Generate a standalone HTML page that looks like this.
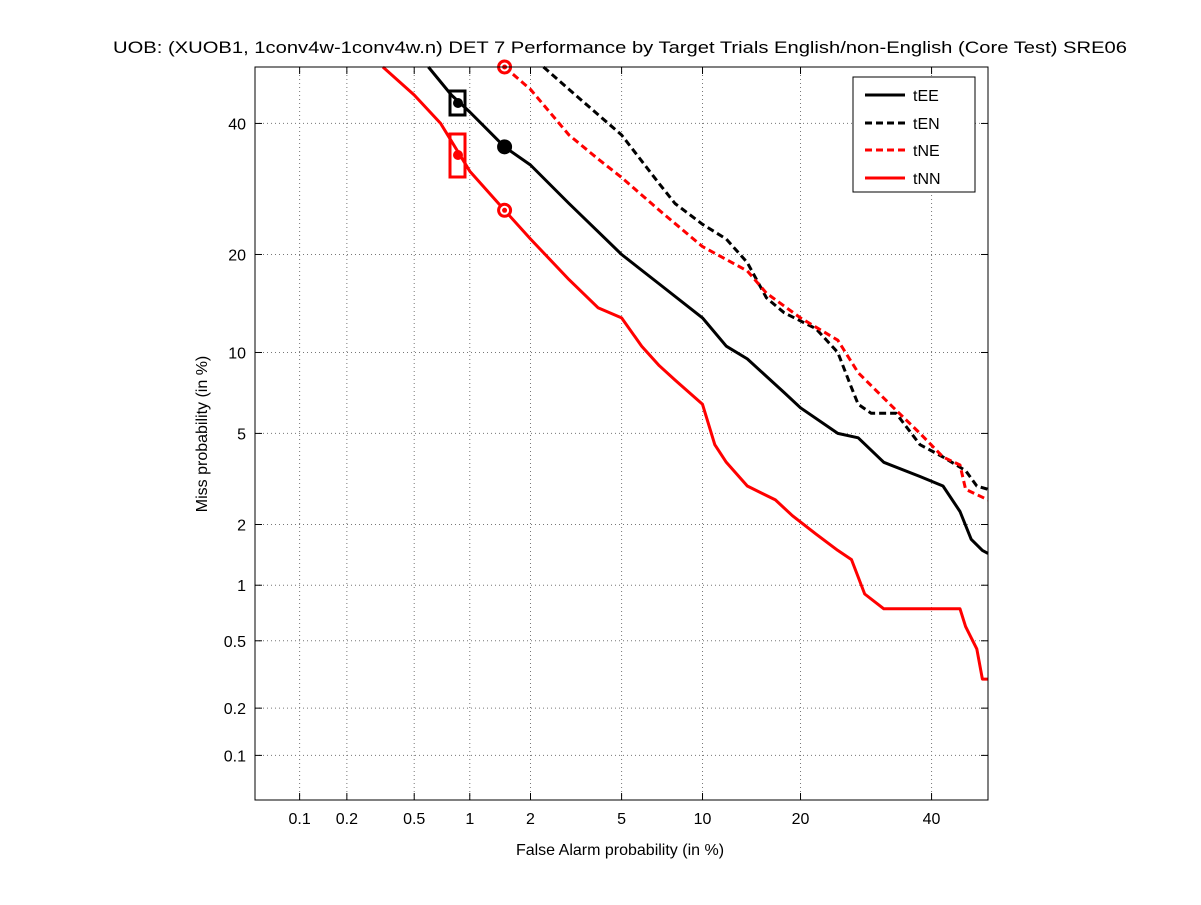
<!DOCTYPE html>
<html><head><meta charset="utf-8"><style>
body{margin:0;background:#fff;font-family:"Liberation Sans",sans-serif}
</style></head><body>
<svg id="chart" width="1201" height="900" xmlns="http://www.w3.org/2000/svg" style="font-family:'Liberation Sans',sans-serif">
<rect x="0" y="0" width="1201" height="900" fill="#fff"/>
<text x="113" y="53" font-size="17" textLength="1014" lengthAdjust="spacingAndGlyphs">UOB: (XUOB1, 1conv4w-1conv4w.n) DET 7 Performance by Target Trials English/non-English (Core Test) SRE06</text>
<text x="620" y="855" text-anchor="middle" font-size="16">False Alarm probability (in %)</text>
<text transform="translate(207,434) rotate(-90)" text-anchor="middle" font-size="16">Miss probability (in %)</text>
<g id="grid"></g><g id="ticks"></g><g id="series"></g>
<rect x="255" y="67" width="733" height="733" fill="none" stroke="#000" stroke-width="1"/>
<g>
<rect x="853" y="77" width="122" height="115" fill="#fff" stroke="#000"/>
<line x1="865" y1="95" x2="905" y2="95" stroke="#000" stroke-width="3"/><text x="913" y="101" font-size="16">tEE</text>
<line x1="865" y1="123" x2="905" y2="123" stroke="#000" stroke-width="3" stroke-dasharray="7,4"/><text x="913" y="129" font-size="16">tEN</text>
<line x1="865" y1="150" x2="905" y2="150" stroke="#f00" stroke-width="3" stroke-dasharray="7,4"/><text x="913" y="156" font-size="16">tNE</text>
<line x1="865" y1="178" x2="905" y2="178" stroke="#f00" stroke-width="3"/><text x="913" y="184" font-size="16">tNN</text>
</g>
</svg>
<script>
const tickValues=[0.1,0.2,0.5,1,2,5,10,20,40];
const tickLabels=["0.1","0.2","0.5","1","2","5","10","20","40"];
const tEE_fa=[0.6,0.8,1,1.5,2,3,4,5,7,10,12,14,18,20,25,28,32,38,42,45,47,49,50];
const tEE_miss=[50,45,42,36,33,27,23,20,16.5,13,10.5,9.5,7.2,6.3,5,4.8,3.8,3.3,3,2.3,1.7,1.5,1.45];
const tEN_fa=[2.3,3,5,7,8,10,12,14,16,18,22,25,27,28,30,34,38,42,46,48,50];
const tEN_miss=[50,46,38,30,27,24,22,19,15,13.5,12,10,7.5,6.5,6,6,4.5,4,3.5,3,2.9];
const tNE_fa=[1.5,2,3,4,5,7,10,14,16,20,25,28,33,38,42,45,46,50];
const tNE_miss=[50,46,38,34,31,26,21,18,15.5,13,11,8.5,6.5,5,4,3.7,2.9,2.6];
const tNN_fa=[0.33,0.5,0.7,1,1.5,2,3,4,5,6,7,8,10,11,12,14,17,19,22,25,27,29,32,45,46,48,49,50];
const tNN_miss=[50,45,40,32,26,22,17,14,13,10.5,9,8,6.5,4.5,3.8,3,2.6,2.2,1.8,1.5,1.35,0.9,0.75,0.75,0.6,0.45,0.3,0.3];

function probit(p){const a=[-39.69683028665376,220.9460984245205,-275.9285104469687,138.357751867269,-30.66479806614716,2.506628277459239],b=[-54.47609879822406,161.5858368580409,-155.6989798598866,66.80131188771972,-13.28068155288572],c=[-0.007784894002430293,-0.3223964580411365,-2.400758277161838,-2.549732539343734,4.374664141464968,2.938163982698783],d=[0.007784695709041462,0.3224671290700398,2.445134137142996,3.754408661907416];
if(p<0.02425){const q=Math.sqrt(-2*Math.log(p));return (((((c[0]*q+c[1])*q+c[2])*q+c[3])*q+c[4])*q+c[5])/((((d[0]*q+d[1])*q+d[2])*q+d[3])*q+1);}
if(p>1-0.02425){return -probit(1-p);}
const q=p-0.5,r=q*q;return (((((a[0]*r+a[1])*r+a[2])*r+a[3])*r+a[4])*r+a[5])*q/(((((b[0]*r+b[1])*r+b[2])*r+b[3])*r+b[4])*r+1);}
const U0=probit(0.0005),SC=733/(0-U0);
function xs(p){return 255+(probit(p/100)-U0)*SC;}
function ys(p){return 800-(probit(p/100)-U0)*SC;}
const NS="http://www.w3.org/2000/svg";
function mk(t,at,par){const e=document.createElementNS(NS,t);for(const k in at)e.setAttribute(k,at[k]);document.getElementById(par).appendChild(e);return e;}
tickValues.forEach((v,i)=>{
 const x=xs(v),y=ys(v);
 let g=mk('line',{x1:x,y1:67,x2:x,y2:800,stroke:'#777','stroke-dasharray':'1,3'},'grid');
 
 
 g=mk('line',{x1:255,y1:y,x2:988,y2:y,stroke:'#777','stroke-dasharray':'1,3'},'grid');
 
 
 mk('line',{x1:x,y1:800,x2:x,y2:793,stroke:'#000'},'ticks');
 mk('line',{x1:x,y1:67,x2:x,y2:74,stroke:'#000'},'ticks');
 mk('line',{x1:255,y1:y,x2:262,y2:y,stroke:'#000'},'ticks');
 mk('line',{x1:988,y1:y,x2:981,y2:y,stroke:'#000'},'ticks');
 let t=mk('text',{x:x,y:824,'text-anchor':'middle','font-size':16},'ticks');t.textContent=tickLabels[i];
 
 
 t=mk('text',{x:246,y:y+6,'text-anchor':'end','font-size':16},'ticks');t.textContent=tickLabels[i];
 
 
});
function line(fa,miss,col,dash,name){
 const pts=fa.map((f,i)=>xs(f).toFixed(1)+','+ys(miss[i]).toFixed(1)).join(' ');
 const at={points:pts,fill:'none',stroke:col,'stroke-width':3,'stroke-linejoin':'round'};
 if(dash)at['stroke-dasharray']='7,4';
 const e=mk('polyline',at,'series');
 
 
}
line(tEE_fa,tEE_miss,'#000',false,'series-tEE');
line(tEN_fa,tEN_miss,'#000',true,'series-tEN');
line(tNE_fa,tNE_miss,'#f00',true,'series-tNE');
line(tNN_fa,tNN_miss,'#f00',false,'series-tNN');
const circ=[[1.5,36,'#000'],[1.5,26,'#f00'],[1.5,50,'#f00']];
circ.forEach(c=>{const e=mk('circle',{cx:xs(c[0]),cy:ys(c[1]),r:6,fill:c[2]=='#000'?'#000':'#fff',stroke:c[2],'stroke-width':3},'series');
 
 
 if(c[2]!='#000')mk('circle',{cx:xs(c[0]),cy:ys(c[1]),r:2.5,fill:c[2]},'series');});
let b=mk('rect',{x:450,y:91,width:15,height:24,fill:'none',stroke:'#000','stroke-width':3},'series');


mk('circle',{cx:458,cy:103,r:5,fill:'#000'},'series');
b=mk('rect',{x:450,y:134,width:15,height:43,fill:'none',stroke:'#f00','stroke-width':3},'series');


mk('circle',{cx:458,cy:155,r:5,fill:'#f00'},'series');
</script>
</body></html>
